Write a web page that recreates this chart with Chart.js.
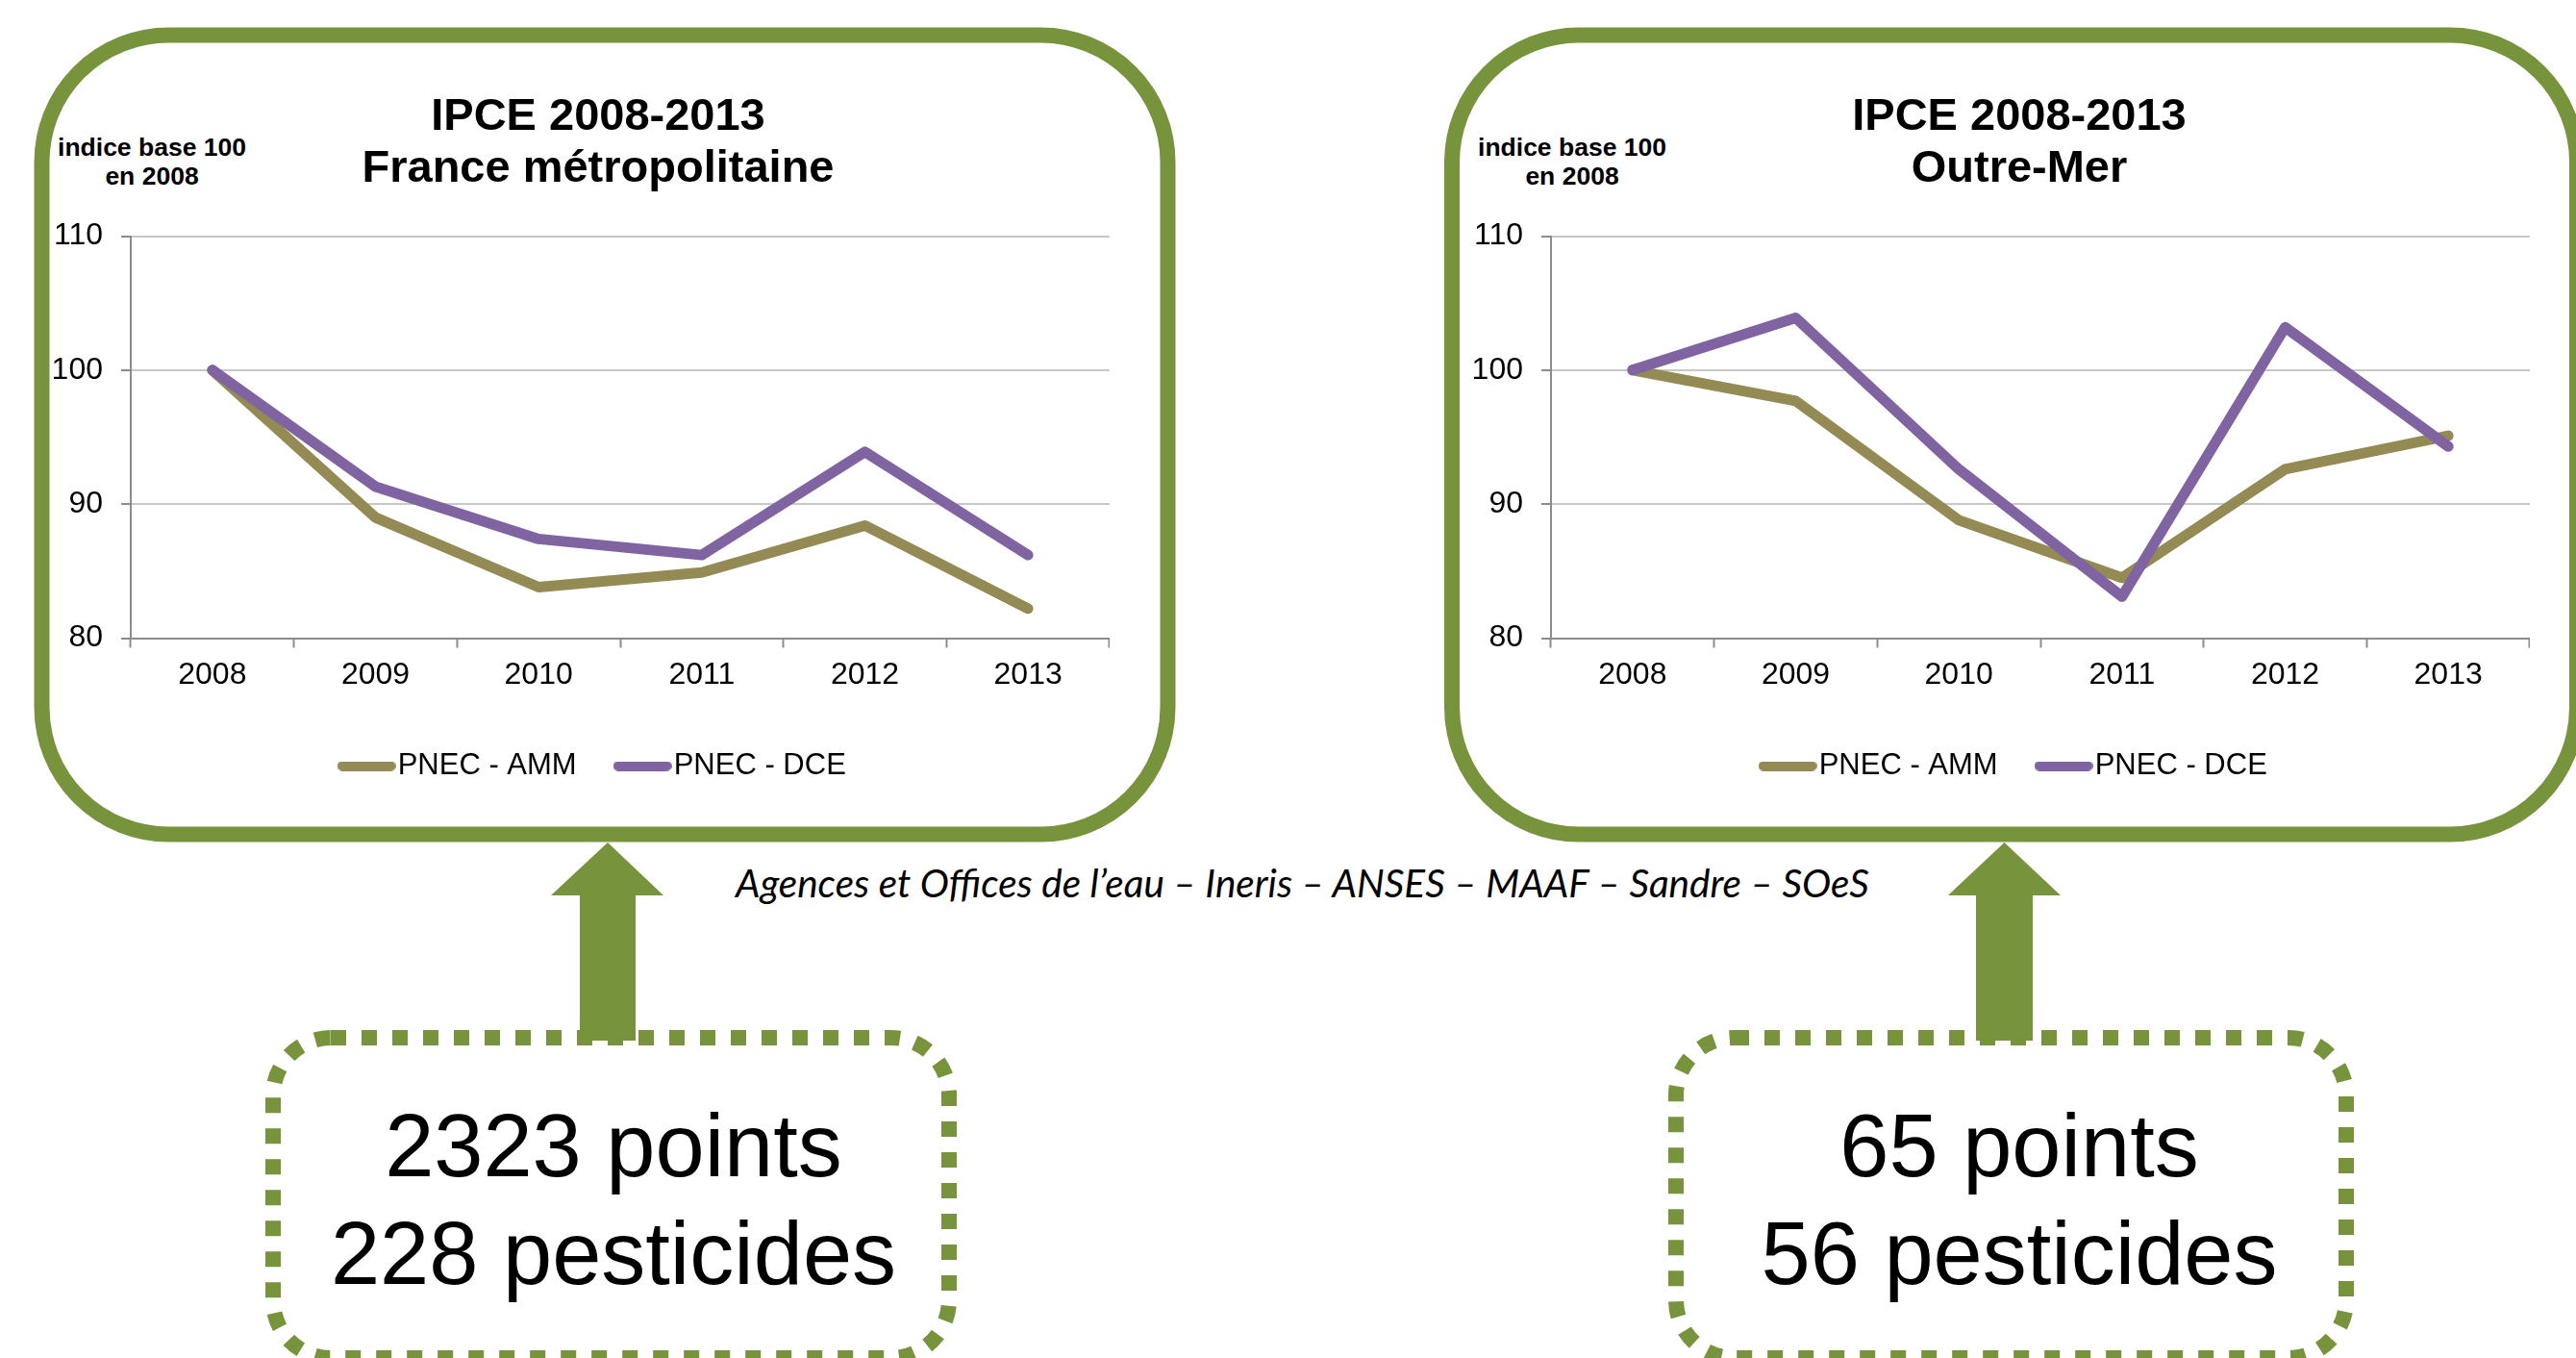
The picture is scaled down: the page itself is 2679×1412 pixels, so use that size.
<!DOCTYPE html>
<html>
<head>
<meta charset="utf-8">
<script src="https://cdn.jsdelivr.net/npm/chart.js@4"></script>
<style>
    body { margin: 0; background: #ffffff; }
    #page { position: relative; width: 2679px; height: 1412px; overflow: hidden; background: #ffffff; }
    #deco { position: absolute; left: 0; top: 0; }
    canvas { position: absolute; }
</style>
</head>
<body>
<div id="page">
    <svg id="deco" width="2679" height="1412" xmlns="http://www.w3.org/2000/svg">
        <rect x="43.5" y="36.5" width="1171" height="831" rx="132" ry="132" fill="none" stroke="#77933C" stroke-width="16"/>
        <rect x="1510" y="36.5" width="1170" height="831" rx="132" ry="132" fill="none" stroke="#77933C" stroke-width="16"/>

        <polygon points="632,876 690,931 661,931 661,1082 603,1082 603,931 573,931" fill="#77933C"/>
        <polygon points="2084.5,876 2143,931 2114,931 2114,1082 2055,1082 2055,931 2026,931" fill="#77933C"/>

        <rect x="284" y="1079" width="703" height="333" rx="60" ry="60" fill="none" stroke="#77933C" stroke-width="16" stroke-dasharray="16 16"/>
        <rect x="1743" y="1079" width="697" height="333" rx="60" ry="60" fill="none" stroke="#77933C" stroke-width="16" stroke-dasharray="16 16"/>

        <g font-family="Liberation Sans, Arial, sans-serif" font-weight="bold" font-size="26.5" text-anchor="middle" fill="#000">
            <text x="158" y="162">indice base 100</text>
            <text x="158" y="192">en 2008</text>
            <text x="1635" y="162">indice base 100</text>
            <text x="1635" y="192">en 2008</text>
        </g>

        <text id="source" x="1354.5" y="933" text-anchor="middle" font-family="Lato, 'Open Sans', sans-serif" font-style="italic" font-size="35" fill="#000">Agences et Offices de l’eau – Ineris – ANSES – MAAF – Sandre – SOeS</text>

        <g font-family="Liberation Sans, Arial, sans-serif" font-size="92" text-anchor="middle" fill="#000">
            <text x="638" y="1223">2323 points</text>
            <text x="638" y="1335">228 pesticides</text>
            <text x="2100" y="1223">65 points</text>
            <text x="2100" y="1335">56 pesticides</text>
        </g>
    </svg>
    <canvas id="chartMetro" width="1114" height="782" style="left:40px; top:40px;"></canvas>
    <canvas id="chartOutreMer" width="1112" height="782" style="left:1519px; top:40px;"></canvas>
</div>

<script>
const years = ['2008', '2009', '2010', '2011', '2012', '2013'];
const yMin = 80;
const yMax = 110;
const yStep = 10;

// France métropolitaine
const metroAMM = [100, 89.0, 83.8, 84.9, 88.4, 82.2];
const metroDCE = [100, 91.3, 87.4, 86.2, 93.9, 86.2];

// Outre-Mer
const outreAMM = [100, 97.7, 88.8, 84.5, 92.6, 95.1];
const outreDCE = [100, 103.9, 92.6, 83.1, 103.2, 94.3];

const seriesNames = ['PNEC - AMM', 'PNEC - DCE'];
const colAMM = '#948A54';
const colDCE = '#8064A2';
const fontFamily = "'Liberation Sans', Arial, sans-serif";

// squeeze the source line to the width it has in the picture
(function fitSource() {
    const src = document.getElementById('source');
    const w = src.getComputedTextLength();
    if (w > 0) {
        src.setAttribute('font-size', (35 * 1179 / w).toFixed(2));
    }
})();

// small rounded line used as legend marker (longer than the box so the text sits close to it)
function legendLine(color) {
    const c = document.createElement('canvas');
    c.width = 61;
    c.height = 10;
    const ctx = c.getContext('2d');
    ctx.strokeStyle = color;
    ctx.lineWidth = 10;
    ctx.lineCap = 'round';
    ctx.beginPath();
    ctx.moveTo(5, 5);
    ctx.lineTo(56, 5);
    ctx.stroke();
    return c;
}

// the y axis box is kept narrow so title and legend centre like in the picture,
// so let its labels draw past the box on the left
const widenLabelClip = {
    id: 'widenLabelClip',
    afterLayout: function(chart) {
        chart.scales.y.left = 0;
    }
};

function makeChart(canvasId, title2, amm, dce, axisWidth) {
    const ctx = document.getElementById(canvasId).getContext('2d');
    return new Chart(ctx, {
        type: 'line',
        data: {
            labels: years,
            datasets: [
                {
                    label: seriesNames[0],
                    data: amm,
                    borderColor: colAMM,
                    backgroundColor: colAMM,
                    borderWidth: 11,
                    pointRadius: 0,
                    borderJoinStyle: 'round',
                    borderCapStyle: 'round',
                    tension: 0,
                    order: 2
                },
                {
                    label: seriesNames[1],
                    data: dce,
                    borderColor: colDCE,
                    backgroundColor: colDCE,
                    borderWidth: 11,
                    pointRadius: 0,
                    borderJoinStyle: 'round',
                    borderCapStyle: 'round',
                    tension: 0,
                    order: 1
                }
            ]
        },
        plugins: [widenLabelClip],
        options: {
            responsive: false,
            animation: false,
            devicePixelRatio: 1,
            layout: {
                padding: { left: 50, right: 0, top: 0, bottom: 0 }
            },
            scales: {
                x: {
                    type: 'category',
                    offset: true,
                    afterFit: function(scale) { scale.height = 66; },
                    grid: {
                        offset: true,
                        drawOnChartArea: false,
                        drawTicks: true,
                        tickLength: 10,
                        tickColor: '#8C8C8C',
                        tickWidth: 2
                    },
                    border: { color: '#8C8C8C', width: 2 },
                    ticks: {
                        color: '#000',
                        padding: 9,
                        font: { family: fontFamily, size: 32 }
                    }
                },
                y: {
                    min: yMin,
                    max: yMax,
                    afterFit: function(scale) { scale.width = axisWidth; },
                    grid: {
                        color: '#C8C8C8',
                        lineWidth: 2,
                        drawTicks: true,
                        tickLength: 10,
                        tickColor: '#8C8C8C',
                        tickWidth: 2
                    },
                    border: { color: '#8C8C8C', width: 2 },
                    ticks: {
                        stepSize: yStep,
                        color: '#000',
                        padding: 19,
                        font: { family: fontFamily, size: 32 }
                    }
                }
            },
            plugins: {
                title: {
                    display: true,
                    text: ['IPCE 2008-2013', title2],
                    color: '#000',
                    font: { family: fontFamily, size: 47, weight: 'bold', lineHeight: 1.15 },
                    padding: { top: 55, bottom: 42.4 }
                },
                legend: {
                    display: true,
                    position: 'bottom',
                    labels: {
                        usePointStyle: true,
                        pointStyleWidth: 34,
                        boxHeight: 10,
                        padding: 51.5,
                        color: '#000',
                        font: { family: fontFamily, size: 31 },
                        generateLabels: function(chart) {
                            return chart.data.datasets.map(function(ds, i) {
                                return {
                                    text: ds.label,
                                    pointStyle: legendLine(ds.borderColor),
                                    fillStyle: ds.borderColor,
                                    strokeStyle: ds.borderColor,
                                    lineWidth: 0,
                                    hidden: false,
                                    datasetIndex: i
                                };
                            });
                        }
                    }
                },
                tooltip: { enabled: false }
            }
        }
    });
}

makeChart('chartMetro', 'France métropolitaine', metroAMM, metroDCE, 46);
makeChart('chartOutreMer', 'Outre-Mer', outreAMM, outreDCE, 44);
</script>
</body>
</html>
